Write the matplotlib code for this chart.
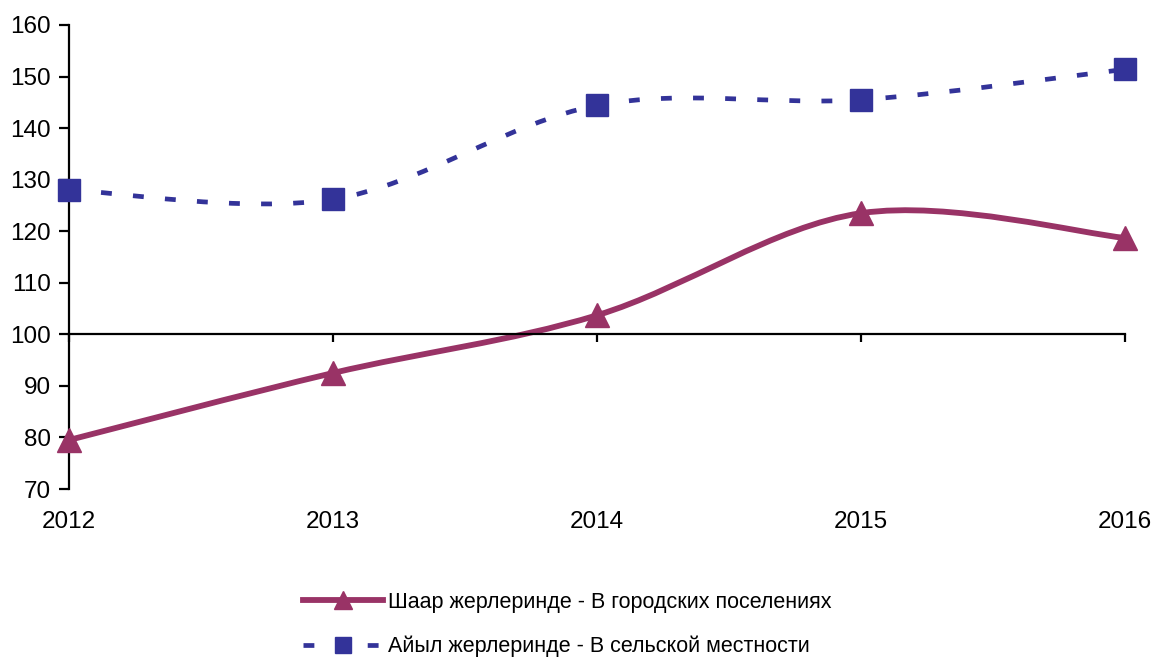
import numpy as np
import matplotlib
matplotlib.use("Agg")
import matplotlib.pyplot as plt
from matplotlib.path import Path
from matplotlib.patches import PathPatch
from matplotlib.lines import Line2D

plt.rcParams["font.family"] = ["Liberation Sans", "DejaVu Sans"]

# данные
years = [2012, 2013, 2014, 2015, 2016]
gorod = [79.5, 92.5, 103.7, 123.5, 118.7]
selo = [128.0, 126.2, 144.4, 145.5, 151.4]
lbl_gorod = "Шаар жерлеринде - В городских поселениях"
lbl_selo = "Айыл жерлеринде - В сельской местности"
col_gorod = "#993366"
col_selo = "#333399"


def smooth_path(xs, ys):
    # сглаживание как в Excel: кривые Безье через точки (Catmull-Rom)
    p = np.column_stack([xs, ys]).astype(float)
    n = len(p)
    verts = [p[0]]
    codes = [Path.MOVETO]
    for i in range(n - 1):
        p0 = p[i - 1] if i > 0 else p[i]
        p3 = p[i + 2] if i + 2 < n else p[i + 1]
        c1 = p[i] + (p[i + 1] - p0) / 6.0
        c2 = p[i + 1] - (p3 - p[i]) / 6.0
        verts += [c1, c2, p[i + 1]]
        codes += [Path.CURVE4] * 3
    return Path(verts, codes)


fig = plt.figure(figsize=(11.54, 6.57), dpi=100)
ax = fig.add_axes([0.0598, 0.2557, 0.9152, 0.7063])

ax.add_patch(PathPatch(smooth_path(years, selo), fill=False, edgecolor=col_selo,
                       lw=3.4, linestyle=(0, (2.3, 4.5)), capstyle="butt"))
ax.add_patch(PathPatch(smooth_path(years, gorod), fill=False, edgecolor=col_gorod,
                       lw=4.2, capstyle="round"))
ax.plot(years, selo, ls="none", marker="s", ms=15.5, color=col_selo, clip_on=False, zorder=5)
ax.plot(years, gorod, ls="none", marker="^", ms=17, color=col_gorod, clip_on=False, zorder=5)

ax.set_xlim(2012, 2016)
ax.set_ylim(70, 160)
ax.set_yticks(np.arange(70, 161, 10))
ax.set_xticks(years)

for s in ["top", "right"]:
    ax.spines[s].set_visible(False)
ax.spines["left"].set_linewidth(1.6)
ax.spines["bottom"].set_linewidth(1.6)
ax.spines["bottom"].set_position(("data", 100))
ax.tick_params(axis="y", direction="out", length=7, width=1.6, pad=6, labelsize=17.5)
ax.tick_params(axis="x", direction="out", length=6, width=1.6, labelbottom=False)

for yr in years:
    ax.annotate(str(yr), xy=(yr, 0), xycoords=ax.get_xaxis_transform(),
                xytext=(0, -24), textcoords="offset points",
                ha="center", va="center", fontsize=17.5)

h1 = Line2D([], [], color=col_gorod, lw=4.2, marker="^", ms=13)
h2 = Line2D([], [], color=col_selo, lw=3.4, linestyle=(0, (2.3, 4.5)), marker="s", ms=12)
fig.legend([h1, h2], [lbl_gorod, lbl_selo], loc="upper left",
           bbox_to_anchor=(303 / 1154, 1 - 592 / 657), frameon=False,
           fontsize=15.5, handlelength=3.7, handletextpad=0.25,
           labelspacing=1.05, borderpad=0, borderaxespad=0)

fig.savefig("out.png", dpi=100)
